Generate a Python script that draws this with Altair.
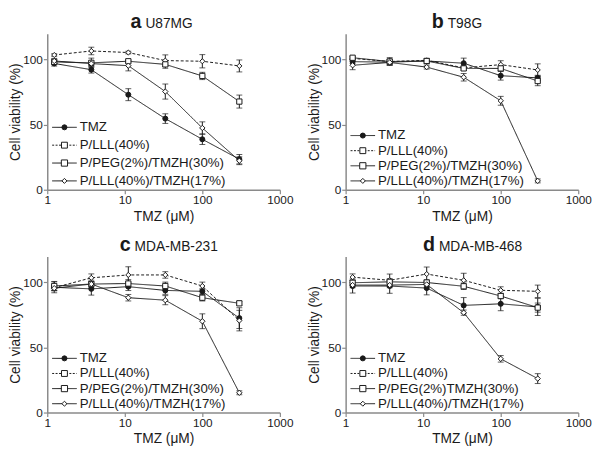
import altair as alt
import pandas as pd

doses = [1.23, 3.7, 11.1, 33.3, 100, 300]
series = ["TMZ", "P/LLL(40%)", "P/PEG(2%)/TMZH(30%)", "P/LLL(40%)/TMZH(17%)"]
x_ticks = [1, 10, 100, 1000]
y_ticks = [0, 25, 50, 75, 100]

# panel a: U87MG
u87_tmz = [97.1, 92.3, 73.1, 54.7, 38.8, 23.5]
u87_tmz_err = [2.0, 2.6, 4.6, 3.7, 4.0, 3.6]
u87_lll = [103.6, 106.7, 105.5, 99.3, 98.8, 95.2]
u87_lll_err = [1.0, 2.9, 1.0, 4.4, 5.1, 4.6]
u87_peg = [98.3, 97.6, 98.8, 96.4, 87.5, 67.8]
u87_peg_err = [2.0, 3.6, 1.0, 3.0, 2.8, 5.0]
u87_tmzh = [99.0, 97.0, 95.4, 75.5, 47.5, 22.3]
u87_tmzh_err = [2.0, 2.0, 4.0, 5.8, 4.7, 3.0]

# panel b: T98G
t98_tmz = [98.5, 98.1, 99.0, 97.3, 87.7, 86.0]
t98_tmz_err = [1.5, 2.0, 1.5, 3.9, 3.4, 2.0]
t98_lll = [101.0, 98.6, 99.5, 93.7, 96.2, 92.1]
t98_lll_err = [1.0, 2.0, 1.0, 1.5, 3.0, 4.7]
t98_peg = [101.5, 98.6, 99.0, 93.3, 93.3, 83.6]
t98_peg_err = [1.0, 3.0, 2.0, 1.5, 2.0, 3.6]
t98_tmzh = [95.7, 97.9, 94.3, 86.5, 68.4, 6.8]
t98_tmzh_err = [3.4, 2.0, 1.5, 2.9, 3.4, 1.5]

# panel c: MDA-MB-231
mb231_tmz = [96.3, 95.1, 96.8, 93.9, 93.2, 72.6]
mb231_tmz_err = [4.2, 4.8, 3.0, 3.0, 2.0, 8.0]
mb231_lll = [96.0, 103.6, 105.8, 105.8, 97.3, 70.7]
mb231_lll_err = [2.0, 3.0, 6.3, 2.5, 3.0, 7.9]
mb231_peg = [97.3, 98.8, 99.2, 97.3, 88.3, 84.0]
mb231_peg_err = [3.5, 3.0, 3.0, 3.0, 2.5, 1.5]
mb231_tmzh = [95.6, 98.8, 88.3, 86.4, 70.2, 15.2]
mb231_tmzh_err = [2.0, 2.0, 2.5, 3.5, 5.7, 1.5]

# panel d: MDA-MB-468
mb468_tmz = [97.3, 97.3, 95.7, 82.4, 83.6, 81.2]
mb468_tmz_err = [5.4, 5.6, 5.2, 6.0, 5.3, 6.6]
mb468_lll = [104.1, 101.7, 106.5, 101.7, 94.0, 93.2]
mb468_lll_err = [2.5, 4.8, 5.4, 5.4, 2.7, 4.8]
mb468_peg = [99.8, 100.5, 100.0, 97.1, 89.6, 80.7]
mb468_peg_err = [2.0, 1.5, 2.0, 2.5, 2.0, 3.5]
mb468_tmzh = [98.0, 98.0, 98.5, 76.8, 41.3, 26.1]
mb468_tmzh_err = [2.0, 2.0, 2.0, 2.0, 2.5, 3.8]

legend_labels = ["TMZ", "P/LLL(40%)", "P/PEG(2%)/TMZH(30%)", "P/LLL(40%)/TMZH(17%)"]
legend_labels_d = ["TMZ", "P/LLL(40%)", "P/PEG(2%)TMZH(30%)", "P/LLL(40%)/TMZH(17%)"]

W, H = 237, 159
INK = "#1a1a1a"
AXC = "#8a8a8a"
FONT = "Liberation Sans"

plot_shapes = ["circle", "diamond", "square", "diamond"]
plot_fills = [INK, "white", "white", "white"]
plot_sizes = [26, 30, 40, 30]
plot_dash = [[1, 0], [3, 2], [1, 0], [1, 0]]

leg_shapes = ["circle", "square", "square", "diamond"]
leg_fills = [INK, "white", "white", "white"]
leg_sizes = [26, 36, 40, 26]
leg_dash = [[1, 0], [2, 1.5], [1, 0], [1, 0]]

axis_style = dict(labelFont=FONT, labelFontSize=12, labelColor=INK, titleFont=FONT, titleFontSize=14,
                  titleFontWeight="normal", titleColor=INK, domainColor=AXC, tickColor=AXC,
                  domainWidth=1.5, tickWidth=1.2, tickSize=4, grid=False, labelPadding=1)


def panel(letter, cell, letter_x, means, errs, labels, leg_dy):
    rows = []
    for s, m, e in zip(series, means, errs):
        for d, v, er in zip(doses, m, e):
            rows.append(dict(series=s, dose=d, v=v, lo=v - er, hi=v + er))
    df = pd.DataFrame(rows)
    x = alt.X("dose:Q", scale=alt.Scale(type="log", domain=[1, 1000]),
              axis=alt.Axis(values=x_ticks, format="d", title="TMZ (μM)", labelFlush=False,
                            titlePadding=4, **axis_style))
    y = alt.Y("v:Q", scale=alt.Scale(domain=[0, 115]),
              axis=alt.Axis(values=y_ticks, title="Cell viability (%)", titlePadding=0, **axis_style))
    base = alt.Chart(df)
    lines = base.mark_line(color=INK, strokeWidth=1).encode(
        x=x, y=y, detail="series:N",
        strokeDash=alt.StrokeDash("series:N", scale=alt.Scale(domain=series, range=plot_dash), legend=None),
    )
    bars = base.mark_rule(color=INK, strokeWidth=1).encode(x="dose:Q", y="lo:Q", y2="hi:Q")
    cap_lo = base.mark_tick(color=INK, orient="horizontal", size=6, thickness=1).encode(x="dose:Q", y="lo:Q")
    cap_hi = base.mark_tick(color=INK, orient="horizontal", size=6, thickness=1).encode(x="dose:Q", y="hi:Q")
    pts = base.mark_point(filled=True, stroke=INK, strokeWidth=1, opacity=1).encode(
        x="dose:Q", y="v:Q",
        shape=alt.Shape("series:N", scale=alt.Scale(domain=series, range=plot_shapes), legend=None),
        fill=alt.Fill("series:N", scale=alt.Scale(domain=series, range=plot_fills), legend=None),
        size=alt.Size("series:N", scale=alt.Scale(domain=series, range=plot_sizes), legend=None),
    )
    one = alt.Chart(pd.DataFrame({"k": [0]}))
    t1 = one.mark_text(text=letter, font=FONT, fontSize=20, fontWeight="bold", align="right",
                       baseline="alphabetic", color=INK).encode(x=alt.value(letter_x), y=alt.value(-6))
    t2 = one.mark_text(text=cell, font=FONT, fontSize=14, align="left",
                       baseline="alphabetic", color=INK).encode(x=alt.value(letter_x + 4), y=alt.value(-6))
    layers = [lines, bars, cap_lo, cap_hi, pts, t1, t2]
    for i, lab in enumerate(labels):
        yy = H - 9 - (3 - i) * leg_dy
        layers.append(one.mark_rule(color=INK, strokeWidth=1, strokeDash=leg_dash[i]).encode(
            x=alt.value(5), x2=alt.value(30), y=alt.value(yy)))
        layers.append(one.mark_point(shape=leg_shapes[i], filled=True, fill=leg_fills[i], stroke=INK,
                                     strokeWidth=1, size=leg_sizes[i], opacity=1).encode(
            x=alt.value(17.5), y=alt.value(yy)))
        layers.append(one.mark_text(text=lab, font=FONT, fontSize=13.5, align="left", baseline="middle",
                                    color=INK).encode(x=alt.value(33), y=alt.value(yy)))
    return alt.layer(*layers).properties(width=W, height=H)


pa = panel("a", "U87MG", 96, [u87_tmz, u87_lll, u87_peg, u87_tmzh],
           [u87_tmz_err, u87_lll_err, u87_peg_err, u87_tmzh_err], legend_labels, 18.2)
pb = panel("b", "T98G", 100, [t98_tmz, t98_lll, t98_peg, t98_tmzh],
           [t98_tmz_err, t98_lll_err, t98_peg_err, t98_tmzh_err], legend_labels, 15.4)
pc = panel("c", "MDA-MB-231", 85, [mb231_tmz, mb231_lll, mb231_peg, mb231_tmzh],
           [mb231_tmz_err, mb231_lll_err, mb231_peg_err, mb231_tmzh_err], legend_labels, 15.4)
pd_ = panel("d", "MDA-MB-468", 91, [mb468_tmz, mb468_lll, mb468_peg, mb468_tmzh],
            [mb468_tmz_err, mb468_lll_err, mb468_peg_err, mb468_tmzh_err], legend_labels_d, 15.4)

chart = alt.vconcat(
    alt.hconcat(pa, pb, spacing=13),
    alt.hconcat(pc, pd_, spacing=13),
    spacing=12,
).properties(
    padding={"left": 0, "top": 0, "right": 0, "bottom": 0}, background="white"
).configure_view(stroke=None)

chart.save("out.html", embed_options={"renderer": "svg", "actions": False})
